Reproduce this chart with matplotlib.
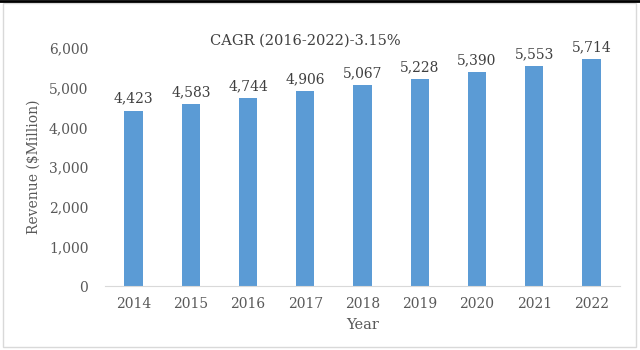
import matplotlib.pyplot as plt
from matplotlib.patches import Rectangle

# data
years = ['2014', '2015', '2016', '2017', '2018', '2019', '2020', '2021', '2022']
revenue = [4423, 4583, 4744, 4906, 5067, 5228, 5390, 5553, 5714]
yticks = [0, 1000, 2000, 3000, 4000, 5000, 6000]

plt.rcParams['font.family'] = ['DejaVu Serif']

fig = plt.figure(figsize=(6.4, 3.5), dpi=100)
ax = fig.add_axes([105 / 640, 1 - 286 / 350, 515 / 640, 238 / 350])

bars = ax.bar(range(len(years)), revenue, width=0.32, color='#5B9BD5')
for x, v in zip(range(len(years)), revenue):
    ax.text(x, v + 120, f'{v:,}', ha='center', va='bottom', fontsize=10, color='#404040')

ax.set_xlim(-0.5, len(years) - 0.5)
ax.set_ylim(0, 6000)
ax.set_yticks(yticks)
ax.set_yticklabels([f'{t:,}' for t in yticks])
ax.set_xticks(range(len(years)))
ax.set_xticklabels(years)
ax.tick_params(length=0, labelsize=10, colors='#595959', pad=8)
ax.tick_params(axis='y', pad=12)
for s in ['top', 'right', 'left']:
    ax.spines[s].set_visible(False)
ax.spines['bottom'].set_color('#D9D9D9')

ax.set_xlabel('Year', fontsize=10.5, color='#595959', labelpad=5)
ax.set_ylabel('Revenue ($Million)', fontsize=10, color='#595959', labelpad=6)
fig.text(305 / 640, 1 - 41 / 350, 'CAGR (2016-2022)-3.15%', ha='center', va='center',
         fontsize=10.5, color='#404040')

# outer frame
fig.patches.append(Rectangle((3 / 640, 3 / 350), 633 / 640, 344 / 350, transform=fig.transFigure,
                             fill=False, edgecolor='#D9D9D9', lw=1))
fig.lines.append(plt.Line2D([0, 1], [1 - 0.5 / 350, 1 - 0.5 / 350], transform=fig.transFigure,
                            color='black', lw=2))

fig.savefig('out.png', dpi=100)
